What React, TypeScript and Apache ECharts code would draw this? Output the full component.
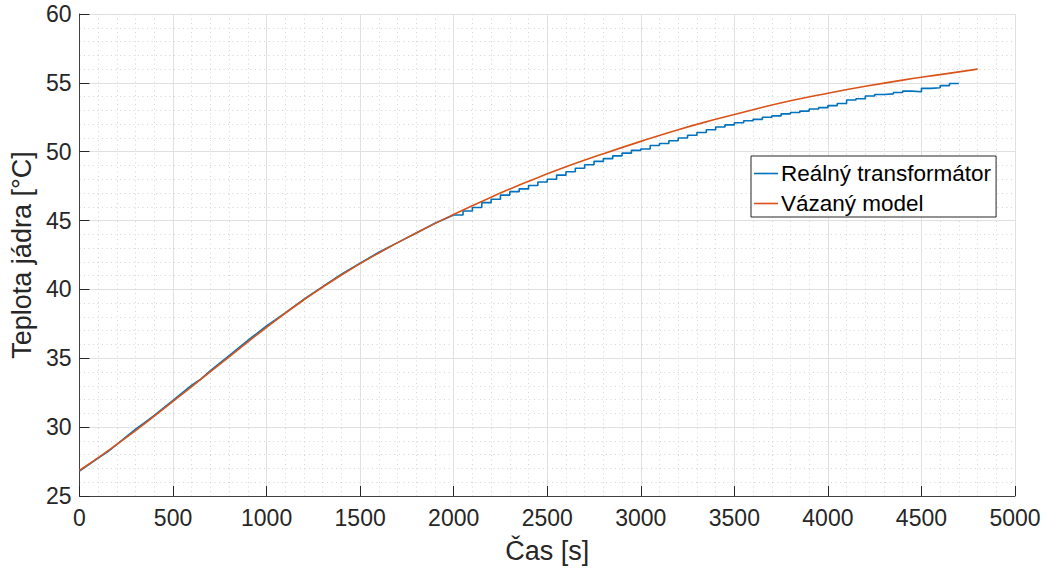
import React, { useEffect, useRef } from "react";
import * as echarts from "echarts";

// Vázaný model (orange), time [s] and temperature [°C]
const modelTime = [0, 200, 400, 600, 800, 1000, 1200, 1400, 1600, 1800, 2000, 2200, 2400, 2600, 2800, 3000, 3200, 3400, 3600, 3800, 4000, 4200, 4400, 4600, 4800];
const modelTemp = [26.85, 28.75, 30.8, 32.95, 35.1, 37.25, 39.25, 41.05, 42.65, 44.1, 45.45, 46.7, 47.85, 48.9, 49.85, 50.75, 51.6, 52.35, 53.05, 53.7, 54.25, 54.75, 55.2, 55.6, 56.0];

// Reálný transformátor (blue), early part
const realEarlyTime = [0, 100, 150, 200, 300, 350, 400, 500, 600, 650, 700, 800, 900, 1000, 1100, 1200, 1300, 1400, 1500, 1600, 1700, 1800, 1900, 2000];
const realEarlyTemp = [26.8, 27.75, 28.2, 28.75, 29.85, 30.35, 30.85, 31.95, 33.05, 33.5, 34.1, 35.2, 36.3, 37.35, 38.3, 39.3, 40.2, 41.1, 41.9, 42.7, 43.4, 44.1, 44.8, 45.4];

// Reálný transformátor (blue), later part drawn as a staircase
const realLateTime = [2000, 2050, 2100, 2150, 2200, 2250, 2300, 2350, 2400, 2450, 2500, 2550, 2600, 2650, 2700, 2750, 2800, 2850, 2900, 2950, 3000, 3050, 3100, 3150, 3200, 3250, 3300, 3350, 3400, 3450, 3500, 3550, 3600, 3650, 3700, 3750, 3800, 3850, 3900, 3950, 4000, 4050, 4100, 4150, 4200, 4250, 4300, 4350, 4400, 4450, 4500, 4550, 4600, 4650, 4700];
const realLateTemp = [45.4, 45.7, 45.95, 46.3, 46.55, 46.85, 47.1, 47.3, 47.55, 47.8, 48.0, 48.3, 48.55, 48.8, 49.05, 49.3, 49.5, 49.7, 49.9, 50.1, 50.2, 50.45, 50.6, 50.8, 51.0, 51.2, 51.4, 51.6, 51.8, 51.95, 52.1, 52.25, 52.35, 52.5, 52.6, 52.75, 52.85, 52.95, 53.1, 53.2, 53.35, 53.5, 53.75, 53.85, 54.05, 54.15, 54.2, 54.3, 54.4, 54.35, 54.6, 54.65, 54.8, 54.95, 55.0];

const seriesNames = ["Reálný transformátor", "Vázaný model"];
const xLabel = "Čas [s]";
const yLabel = "Teplota jádra [°C]";

const FONT = "'Liberation Sans', Arial, Helvetica, sans-serif";
const BLUE = "#0072BD";
const ORANGE = "#D95319";

const zip = (a: number[], b: number[]) => a.map((v, i) => [v, b[i]]);

export default function App() {
  const ref = useRef<HTMLDivElement>(null);
  useEffect(() => {
    if (!ref.current) return;
    const chart = echarts.init(ref.current, null, { renderer: "svg" });
    const axisCommon = {
      type: "value" as const,
      nameLocation: "middle" as const,
      nameTextStyle: { fontFamily: FONT, fontSize: 27, color: "#262626" },
      axisLine: { show: true, onZero: false, lineStyle: { color: "#404040", width: 1 } },
      axisTick: { show: true, inside: true, length: 10, lineStyle: { color: "#262626", width: 1 } },
      axisLabel: { fontFamily: FONT, fontSize: 23, color: "#262626", formatter: (v: number) => String(v) },
      splitLine: { show: true, lineStyle: { color: "#e0e0e0", width: 1 } },
      minorTick: { show: false, splitNumber: 5 },
      minorSplitLine: { show: true, lineStyle: { color: "#d4d4d4", width: 1, type: [1, 3.5] } },
    };
    chart.setOption({
      animation: false,
      backgroundColor: "#ffffff",
      grid: { left: 78, right: 33, top: 14, bottom: 78, containLabel: false },
      legend: {
        data: seriesNames,
        orient: "vertical",
        left: 751,
        top: 156,
        icon: "rect",
        backgroundColor: "#ffffff",
        borderColor: "#262626",
        borderWidth: 1,
        padding: [6, 5, 2, 3],
        itemGap: 7,
        itemWidth: 24,
        itemHeight: 1.6,
        textStyle: { fontFamily: FONT, fontSize: 22.5, color: "#000000", lineHeight: 22, padding: [0, 0, 0, -2] },
      },
      xAxis: {
        ...axisCommon,
        name: xLabel,
        nameGap: 41,
        min: 0,
        max: 5000,
        interval: 500,
        axisLabel: { ...axisCommon.axisLabel, margin: 10 },
      },
      yAxis: {
        ...axisCommon,
        name: yLabel,
        nameGap: 36,
        min: 25,
        max: 60,
        interval: 5,
        axisLabel: { ...axisCommon.axisLabel, margin: 8 },
      },
      series: [
        {
          name: seriesNames[0],
          type: "line",
          data: zip(realEarlyTime, realEarlyTemp),
          showSymbol: false,
          symbol: "none",
          lineStyle: { color: BLUE, width: 1.6 },
          itemStyle: { color: BLUE },
        },
        {
          name: seriesNames[0],
          type: "line",
          step: "end",
          data: zip(realLateTime, realLateTemp),
          showSymbol: false,
          symbol: "none",
          lineStyle: { color: BLUE, width: 1.6 },
          itemStyle: { color: BLUE },
        },
        {
          name: seriesNames[1],
          type: "line",
          smooth: true,
          data: zip(modelTime, modelTemp),
          showSymbol: false,
          symbol: "none",
          lineStyle: { color: ORANGE, width: 1.6 },
          itemStyle: { color: ORANGE },
        },
      ],
    });
    return () => chart.dispose();
  }, []);
  return (
    <div
      ref={ref}
      style={{ position: "absolute", left: 0, top: 0, width: 1048, height: 574, background: "#fff" }}
    />
  );
}
